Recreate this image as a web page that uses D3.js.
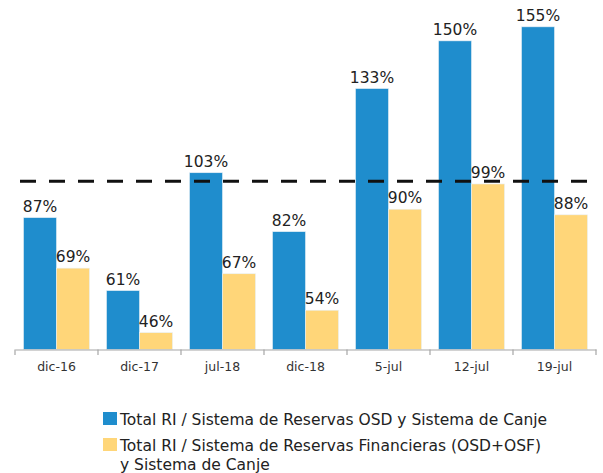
<!DOCTYPE html>
<html><head><meta charset="utf-8">
<script src="https://cdn.jsdelivr.net/npm/d3@7/dist/d3.min.js"></script>
<style>body{margin:0;background:#fff}svg{display:block}</style>
</head><body>
<svg id="c" width="603" height="473"></svg>
<script>
const categories = ["dic-16","dic-17","jul-18","dic-18","5-jul","12-jul","19-jul"];
const seriesOSD = [87,61,103,82,133,150,155];
const seriesFin = [69,46,67,54,90,99,88];
const threshold = 100;
const legendLabels = [
  ["Total RI / Sistema de Reservas OSD y Sistema de Canje"],
  ["Total RI / Sistema de Reservas Financieras (OSD+OSF)","y Sistema de Canje"]
];
const colors = ["#1f8dcd","#ffd679"];
const font = "'DejaVu Sans', sans-serif";

const svg = d3.select("#c");
const x = d3.scaleBand().domain(categories).range([15,596]).paddingInner(0).paddingOuter(0);
const y = d3.scaleLinear().domain([40,160]).range([349.5,12.8]);
const bw = 33;
const off = (x.bandwidth() - 2*bw)/2;

const g = svg.append("g");
[seriesOSD, seriesFin].forEach((vals,si)=>{
  g.selectAll(".b"+si).data(vals).enter().append("rect")
    .attr("x",(d,i)=>x(categories[i])+off+si*bw)
    .attr("y",d=>y(d))
    .attr("width",bw)
    .attr("height",d=>y(40)-y(d))
    .attr("fill",colors[si])
    .attr("stroke","#e8f0f6").attr("stroke-width",0.6);
  g.selectAll(".l"+si).data(vals).enter().append("text")
    .attr("x",(d,i)=>x(categories[i])+off+si*bw+bw/2)
    .attr("y",d=>y(d)-6)
    .attr("text-anchor","middle")
    .attr("font-family",font).attr("font-size",15.5).attr("fill","#222")
    .text(d=>d+"%");
});

// axis
const ax = svg.append("g").attr("transform","translate(0,349.5)")
  .call(d3.axisBottom(x).tickSize(0).tickPadding(13));
ax.select(".domain").attr("stroke","#a6a6a6").attr("stroke-width",1.2);
ax.selectAll("text").attr("font-family",font).attr("font-size",12.5).attr("fill","#333");
const edges = categories.map(c=>x(c)).concat([x.range()[1]]);
svg.append("g").selectAll("line").data(edges).enter().append("line")
  .attr("x1",d=>d).attr("x2",d=>d).attr("y1",349.5).attr("y2",355)
  .attr("stroke","#a6a6a6").attr("stroke-width",1.2);

// threshold dashed
svg.append("line").attr("x1",20).attr("x2",592).attr("y1",y(threshold)).attr("y2",y(threshold))
  .attr("stroke","#111").attr("stroke-width",3).attr("stroke-dasharray","16,13");

// legend
const leg = svg.append("g");
const ly = [412,438];
legendLabels.forEach((lines,i)=>{
  leg.append("rect").attr("x",103).attr("y",ly[i]).attr("width",14).attr("height",13).attr("fill",colors[i]);
  lines.forEach((t,j)=>{
    leg.append("text").attr("x",120).attr("y",ly[i]+12.5+j*19)
      .attr("font-family",font).attr("font-size",15.5).attr("fill","#222").text(t);
  });
});
</script>
</body></html>
